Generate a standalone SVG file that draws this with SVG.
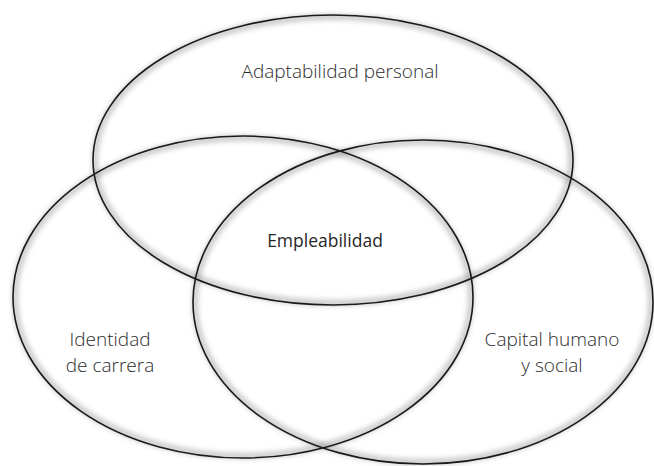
<svg xmlns="http://www.w3.org/2000/svg" width="654" height="466" viewBox="0 0 654 466">
  <style>
    .ring { fill: none; stroke: #1a1a1a; stroke-width: 1.6; }
    .halo { fill: none; stroke: #8a8a8a; stroke-width: 6; opacity: 0.45; filter: url(#soft); }
    .lbl { font-family: "Open Sans", "Liberation Sans", sans-serif; font-weight: 300; font-size: 19px; fill: #2c2c2c; text-anchor: middle; }
    .core { font-family: "Open Sans", "Liberation Sans", sans-serif; font-weight: 400; font-size: 17.5px; fill: #262626; text-anchor: middle; }
  </style>
  <defs>
    <filter id="soft" x="-10%" y="-10%" width="120%" height="120%">
      <feGaussianBlur stdDeviation="2.5"/>
    </filter>
  </defs>
  <rect width="654" height="466" fill="#ffffff"/>

  <g id="connectors"/>

  <!-- shaded rims under the outlines -->
  <g id="halos">
    <ellipse class="halo" cx="333" cy="160" rx="238" ry="143"/>
    <ellipse class="halo" cx="243" cy="297" rx="228" ry="159"/>
    <ellipse class="halo" cx="423" cy="302" rx="228" ry="160"/>
  </g>

  <g id="adaptabilidad">
    <ellipse class="ring" cx="333" cy="160" rx="240" ry="145"/>
    <text class="lbl" x="340" y="78">Adaptabilidad personal</text>
  </g>

  <g id="identidad">
    <ellipse class="ring" cx="243" cy="297" rx="230" ry="161"/>
    <text class="lbl" x="110" y="346">Identidad</text>
    <text class="lbl" x="110" y="372">de carrera</text>
  </g>

  <g id="capital">
    <ellipse class="ring" cx="423" cy="302" rx="230" ry="162"/>
    <text class="lbl" x="552" y="346">Capital humano</text>
    <text class="lbl" x="552" y="372">y social</text>
  </g>

  <g id="empleabilidad">
    <text class="core" x="325" y="247">Empleabilidad</text>
  </g>
</svg>
